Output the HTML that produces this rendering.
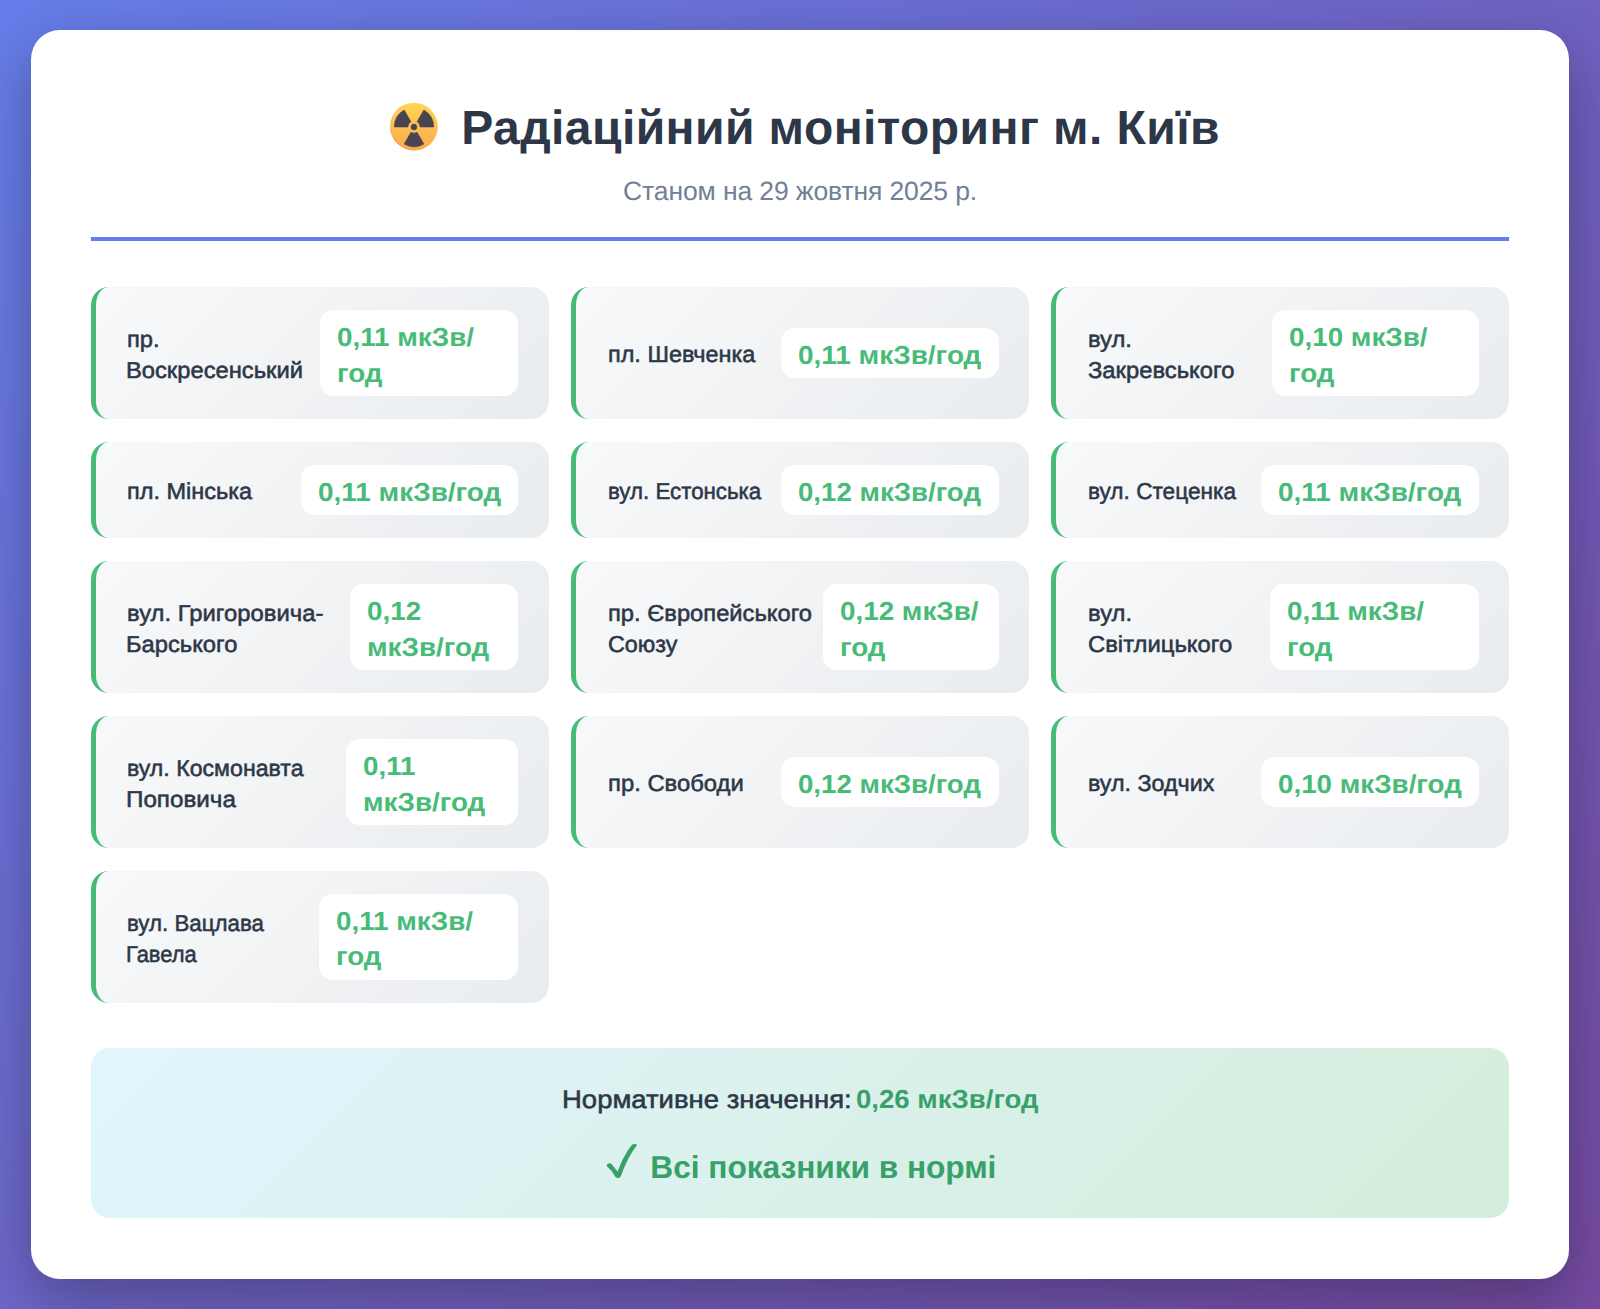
<!DOCTYPE html>
<html lang="uk"><head><meta charset="utf-8"><title>Радіаційний моніторинг м. Київ</title>
<style>
*{margin:0;padding:0;box-sizing:border-box}
html,body{width:1600px;height:1309px;overflow:hidden}
body{font-family:"Liberation Sans",sans-serif;background:linear-gradient(135deg,#667eea 0%,#764ba2 100%);position:relative;text-rendering:geometricPrecision}
.wrap{position:absolute;left:30.5px;top:30.4px;width:1538.8px;height:1248.6px;background:#fff;border-radius:29px;box-shadow:0 20px 60px rgba(0,0,0,0.3)}
.abs{position:absolute}
.rule{position:absolute;left:91px;top:237.25px;width:1418px;height:4px;background:#667eea}
.card{position:absolute;width:457.53px;background:linear-gradient(135deg,#f8f9fa 0%,#e9ecef 100%);border-left:5.75px solid #48bb78;border-radius:18px}
.vb{position:absolute;background:#fff;border-radius:14px}
.sum{position:absolute;left:91px;top:1048.3px;width:1418px;height:170.2px;border-radius:19px;background:linear-gradient(135deg,#e1f5fe 0%,#d4edda 100%)}
.t{position:absolute;white-space:nowrap;line-height:1;font-weight:bold;transform-origin:0 0}
.name{color:#2d3748;font-weight:normal;-webkit-text-stroke:0.55px #2d3748}
.val{color:#48bb78}
.title{color:#2d3748}
.sub{color:#718096;font-weight:normal}
.norm{color:#2d3748;font-weight:normal;-webkit-text-stroke:0.55px #2d3748}
.normv{color:#38a169}
.ok{color:#38a169}
</style></head><body>
<div class="wrap"></div>
<svg class="abs" style="left:389px;top:102px" width="50" height="50" viewBox="0 0 50 50">
<defs><linearGradient id="eg" x1="0" y1="0" x2="0" y2="1"><stop offset="0" stop-color="#ffd453"/><stop offset="1" stop-color="#fdaa4e"/></linearGradient>
<linearGradient id="er" x1="0.8" y1="0.1" x2="0.2" y2="0.9"><stop offset="0" stop-color="#ffe25e"/><stop offset="1" stop-color="#f3963c"/></linearGradient></defs>
<circle cx="25" cy="24.6" r="23.9" fill="url(#er)"/>
<circle cx="25" cy="24.6" r="23.1" fill="url(#eg)"/>
<g fill="#4a4352" stroke="#4a4352" stroke-width="0.6" stroke-linejoin="round">
<circle cx="25" cy="25" r="2.9"/>
<path d="M25 25 m-19.7 0 A19.7 19.7 0 0 1 15.15 7.94 L21.95 19.72 A6.1 6.1 0 0 0 18.9 25 Z"/>
<path d="M25 25 m19.7 0 A19.7 19.7 0 0 0 34.85 7.94 L28.05 19.72 A6.1 6.1 0 0 1 31.1 25 Z"/>
<path d="M15.15 42.06 A19.7 19.7 0 0 0 34.85 42.06 L28.05 30.28 A6.1 6.1 0 0 1 21.95 30.28 Z"/>
</g></svg>
<div class="rule"></div>
<div class="card" style="left:91.00px;top:286.75px;height:132.2px"></div>
<div class="card" style="left:571.23px;top:286.75px;height:132.2px"></div>
<div class="card" style="left:1051.46px;top:286.75px;height:132.2px"></div>
<div class="card" style="left:91.00px;top:441.65px;height:96.6px"></div>
<div class="card" style="left:571.23px;top:441.65px;height:96.6px"></div>
<div class="card" style="left:1051.46px;top:441.65px;height:96.6px"></div>
<div class="card" style="left:91.00px;top:560.95px;height:132.2px"></div>
<div class="card" style="left:571.23px;top:560.95px;height:132.2px"></div>
<div class="card" style="left:1051.46px;top:560.95px;height:132.2px"></div>
<div class="card" style="left:91.00px;top:715.85px;height:132.2px"></div>
<div class="card" style="left:571.23px;top:715.85px;height:132.2px"></div>
<div class="card" style="left:1051.46px;top:715.85px;height:132.2px"></div>
<div class="card" style="left:91.00px;top:870.75px;height:132.2px"></div>
<div class="vb" style="left:319.60px;top:309.80px;width:198.73px;height:86.10px"></div>
<div class="vb" style="left:781.06px;top:327.55px;width:217.50px;height:50.60px"></div>
<div class="vb" style="left:1271.60px;top:309.80px;width:207.19px;height:86.10px"></div>
<div class="vb" style="left:300.83px;top:464.65px;width:217.50px;height:50.60px"></div>
<div class="vb" style="left:781.06px;top:464.65px;width:217.50px;height:50.60px"></div>
<div class="vb" style="left:1261.29px;top:464.65px;width:217.50px;height:50.60px"></div>
<div class="vb" style="left:350.00px;top:584.00px;width:168.33px;height:86.10px"></div>
<div class="vb" style="left:823.10px;top:584.00px;width:175.46px;height:86.10px"></div>
<div class="vb" style="left:1270.10px;top:584.00px;width:208.69px;height:86.10px"></div>
<div class="vb" style="left:346.40px;top:738.90px;width:171.93px;height:86.10px"></div>
<div class="vb" style="left:781.06px;top:756.65px;width:217.50px;height:50.60px"></div>
<div class="vb" style="left:1261.29px;top:756.65px;width:217.50px;height:50.60px"></div>
<div class="vb" style="left:319.40px;top:893.80px;width:198.93px;height:86.10px"></div>
<div class="sum"></div>
<svg class="abs" style="left:600px;top:1135px" width="40" height="46" viewBox="0 0 40 46"><path d="M6.6 30.6 Q6.9 28.6 9.6 28.3 Q10.9 28.2 11.7 29.2 L17.6 36.6 Q22.9 21.5 31.3 10.4 Q32.6 9.0 34.6 9.0 Q36.6 9.0 37.1 9.9 Q27.5 21.8 20.8 41.4 Q20.0 43.0 18.0 43.0 Q16.2 43.0 15.5 41.9 Q12.0 35.5 6.9 31.2 Z" fill="#38a169"/></svg>
<div class="t name" style="left:127.05px;top:327.53px;font-size:23.0px;letter-spacing:0.000px;transform:scaleX(1.0313);">пр.</div>
<div class="t name" style="left:126.15px;top:358.53px;font-size:23.0px;letter-spacing:0.000px;transform:scaleX(1.0313);">Воскресенський</div>
<div class="t val" style="left:336.88px;top:323.99px;font-size:26.0px;letter-spacing:0.000px;transform:scaleX(1.0692);">0,11 мкЗв/</div>
<div class="t val" style="left:336.88px;top:359.99px;font-size:26.0px;letter-spacing:0.000px;transform:scaleX(1.0692);">год</div>
<div class="t name" style="left:608.10px;top:342.53px;font-size:23.0px;letter-spacing:0.000px;transform:scaleX(1.0191);">пл. Шевченка</div>
<div class="t val" style="left:798.18px;top:341.99px;font-size:26.0px;letter-spacing:0.000px;transform:scaleX(1.0740);">0,11 мкЗв/год</div>
<div class="t name" style="left:1088.25px;top:327.53px;font-size:23.0px;letter-spacing:0.000px;transform:scaleX(1.0342);">вул.</div>
<div class="t name" style="left:1088.25px;top:358.53px;font-size:23.0px;letter-spacing:0.000px;transform:scaleX(1.0342);">Закревського</div>
<div class="t val" style="left:1288.88px;top:323.99px;font-size:26.0px;letter-spacing:0.000px;transform:scaleX(1.0692);">0,10 мкЗв/</div>
<div class="t val" style="left:1288.88px;top:359.99px;font-size:26.0px;letter-spacing:0.000px;transform:scaleX(1.0692);">год</div>
<div class="t name" style="left:127.05px;top:479.53px;font-size:23.0px;letter-spacing:0.000px;transform:scaleX(1.0220);">пл. Мінська</div>
<div class="t val" style="left:318.03px;top:478.99px;font-size:26.0px;letter-spacing:0.000px;transform:scaleX(1.0736);">0,11 мкЗв/год</div>
<div class="t name" style="left:608.10px;top:479.53px;font-size:23.0px;letter-spacing:0.000px;transform:scaleX(0.9693);">вул. Естонська</div>
<div class="t val" style="left:798.18px;top:478.99px;font-size:26.0px;letter-spacing:0.000px;transform:scaleX(1.0629);">0,12 мкЗв/год</div>
<div class="t name" style="left:1088.25px;top:479.53px;font-size:23.0px;letter-spacing:0.000px;transform:scaleX(0.9845);">вул. Стеценка</div>
<div class="t val" style="left:1278.33px;top:478.99px;font-size:26.0px;letter-spacing:0.000px;transform:scaleX(1.0740);">0,11 мкЗв/год</div>
<div class="t name" style="left:127.05px;top:601.53px;font-size:23.0px;letter-spacing:0.000px;transform:scaleX(1.0365);">вул. Григоровича-</div>
<div class="t name" style="left:126.15px;top:632.53px;font-size:23.0px;letter-spacing:0.000px;transform:scaleX(1.0313);">Барського</div>
<div class="t val" style="left:367.10px;top:597.99px;font-size:26.0px;letter-spacing:0.000px;transform:scaleX(1.0692);">0,12</div>
<div class="t val" style="left:367.10px;top:633.99px;font-size:26.0px;letter-spacing:0.000px;transform:scaleX(1.0692);">мкЗв/год</div>
<div class="t name" style="left:608.10px;top:601.53px;font-size:23.0px;letter-spacing:0.000px;transform:scaleX(1.0318);">пр. Європейського</div>
<div class="t name" style="left:608.10px;top:632.53px;font-size:23.0px;letter-spacing:0.000px;transform:scaleX(1.0142);">Союзу</div>
<div class="t val" style="left:839.93px;top:597.99px;font-size:26.0px;letter-spacing:0.000px;transform:scaleX(1.0692);">0,12 мкЗв/</div>
<div class="t val" style="left:839.93px;top:633.99px;font-size:26.0px;letter-spacing:0.000px;transform:scaleX(1.0692);">год</div>
<div class="t name" style="left:1088.25px;top:601.53px;font-size:23.0px;letter-spacing:0.000px;transform:scaleX(1.0359);">вул.</div>
<div class="t name" style="left:1088.25px;top:632.53px;font-size:23.0px;letter-spacing:0.000px;transform:scaleX(1.0359);">Світлицького</div>
<div class="t val" style="left:1286.93px;top:597.99px;font-size:26.0px;letter-spacing:0.000px;transform:scaleX(1.0692);">0,11 мкЗв/</div>
<div class="t val" style="left:1286.93px;top:633.99px;font-size:26.0px;letter-spacing:0.000px;transform:scaleX(1.0692);">год</div>
<div class="t name" style="left:127.05px;top:756.53px;font-size:23.0px;letter-spacing:0.000px;transform:scaleX(1.0060);">вул. Космонавта</div>
<div class="t name" style="left:126.15px;top:787.53px;font-size:23.0px;letter-spacing:0.000px;transform:scaleX(1.0528);">Поповича</div>
<div class="t val" style="left:363.32px;top:752.99px;font-size:26.0px;letter-spacing:0.000px;transform:scaleX(1.0692);">0,11</div>
<div class="t val" style="left:363.32px;top:788.99px;font-size:26.0px;letter-spacing:0.000px;transform:scaleX(1.0692);">мкЗв/год</div>
<div class="t name" style="left:608.10px;top:771.53px;font-size:23.0px;letter-spacing:0.000px;transform:scaleX(1.0357);">пр. Свободи</div>
<div class="t val" style="left:798.18px;top:770.99px;font-size:26.0px;letter-spacing:0.000px;transform:scaleX(1.0629);">0,12 мкЗв/год</div>
<div class="t name" style="left:1088.25px;top:771.53px;font-size:23.0px;letter-spacing:0.000px;transform:scaleX(1.0126);">вул. Зодчих</div>
<div class="t val" style="left:1278.33px;top:770.99px;font-size:26.0px;letter-spacing:0.000px;transform:scaleX(1.0679);">0,10 мкЗв/год</div>
<div class="t name" style="left:127.05px;top:911.53px;font-size:23.0px;letter-spacing:0.000px;transform:scaleX(0.9700);">вул. Вацлава</div>
<div class="t name" style="left:126.15px;top:942.53px;font-size:23.0px;letter-spacing:0.000px;transform:scaleX(0.9520);">Гавела</div>
<div class="t val" style="left:336.32px;top:907.99px;font-size:26.0px;letter-spacing:0.000px;transform:scaleX(1.0692);">0,11 мкЗв/</div>
<div class="t val" style="left:336.32px;top:942.99px;font-size:26.0px;letter-spacing:0.000px;transform:scaleX(1.0692);">год</div>
<div class="t title" style="left:461.30px;top:104.87px;font-size:48.0px;letter-spacing:0.419px;">Радіаційний моніторинг м. Київ</div>
<div class="t sub" style="left:623.05px;top:177.57px;font-size:26.5px;letter-spacing:-0.114px;">Станом на 29 жовтня 2025 р.</div>
<div class="t norm" style="left:561.88px;top:1088.41px;font-size:25.5px;letter-spacing:0.000px;transform:scaleX(1.0782);">Нормативне значення:</div>
<div class="t normv" style="left:855.54px;top:1085.99px;font-size:26.0px;letter-spacing:0.000px;transform:scaleX(1.0607);">0,26 мкЗв/год</div>
<div class="t ok" style="left:650.37px;top:1151.97px;font-size:31.7px;letter-spacing:-0.045px;">Всі показники в нормі</div>
</body></html>
